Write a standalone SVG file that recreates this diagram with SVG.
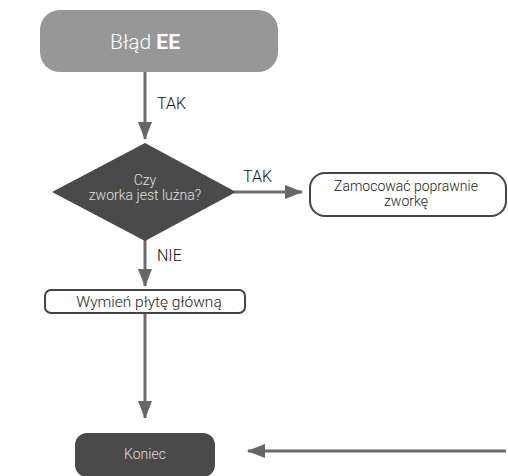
<svg xmlns="http://www.w3.org/2000/svg" width="508" height="476" viewBox="0 0 508 476">
  <style>
    .lbl { font-family: Roboto, "Liberation Sans", sans-serif; font-weight: 300; font-size: 16px; fill: #111; }
    .txt { font-family: Roboto, "Open Sans", "Liberation Sans", sans-serif; font-weight: 300; text-anchor: middle; }
    .conn { stroke: #6b6b6b; stroke-width: 3; fill: none; }
  </style>
  <defs>
    <marker id="arrow" viewBox="0 0 18 14" refX="17" refY="7" markerWidth="18" markerHeight="14" markerUnits="userSpaceOnUse" orient="auto">
      <path d="M0,0 L18,7 L0,14 Z" fill="#666"/>
    </marker>
  </defs>

  <rect width="508" height="476" fill="#fff"/>

  <g id="connectors">
    <line class="conn" x1="145" y1="72" x2="145" y2="139" marker-end="url(#arrow)"/>
    <text class="lbl" x="157" y="109">TAK</text>
    <line class="conn" x1="234" y1="192" x2="302" y2="192" marker-end="url(#arrow)"/>
    <text class="lbl" x="243" y="182">TAK</text>
    <line class="conn" x1="145" y1="240" x2="145" y2="286" marker-end="url(#arrow)"/>
    <text class="lbl" x="157" y="261">NIE</text>
    <line class="conn" x1="145" y1="313" x2="145" y2="418" marker-end="url(#arrow)"/>
    <line class="conn" x1="506" y1="451" x2="248" y2="451" marker-end="url(#arrow)"/>
  </g>

  <g id="start">
    <rect x="40" y="10" width="238" height="62" rx="20" fill="#979797"/>
    <text x="145" y="49" text-anchor="middle" font-family="Roboto, 'Liberation Sans', sans-serif" font-weight="300" font-size="21" fill="#fff">Błąd <tspan font-weight="bold">EE</tspan></text>
  </g>

  <g id="decision">
    <polygon points="145,143 236,192 145,241 52,192" fill="#4a4a4a"/>
    <text class="txt" font-size="14" fill="#e0e0e0"><tspan x="145" y="185">Czy</tspan><tspan x="145" y="200">zworka jest luźna?</tspan></text>
  </g>

  <g id="fix">
    <rect x="310" y="173" width="196" height="43" rx="15" fill="#fff" stroke="#444" stroke-width="2"/>
    <text class="txt" font-size="14" fill="#222"><tspan x="406" y="191">Zamocować poprawnie</tspan><tspan x="406" y="206">zworkę</tspan></text>
  </g>

  <g id="replace">
    <rect x="45" y="290" width="200" height="23" rx="6" fill="#fff" stroke="#444" stroke-width="2"/>
    <text class="txt" font-size="15.5" fill="#222" x="149" y="307">Wymień płytę główną</text>
  </g>

  <g id="end">
    <rect x="75" y="433" width="140" height="44" rx="12" fill="#4a4a4a"/>
    <text class="txt" font-size="14" fill="#ddd" x="145" y="459">Koniec</text>
  </g>
</svg>
